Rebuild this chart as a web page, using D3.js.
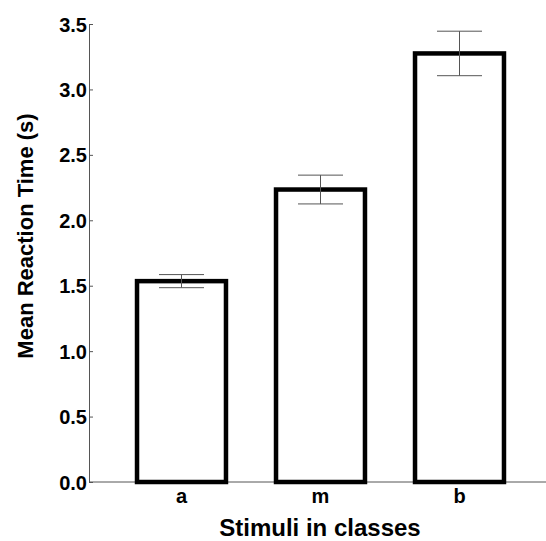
<!DOCTYPE html>
<html>
<head>
<meta charset="utf-8">
<script src="https://cdn.jsdelivr.net/npm/d3@7"></script>
<style>
  body { margin: 0; background: #fff; }
  text { font-family: "Liberation Sans", Arial, sans-serif; font-weight: bold; fill: #000; }
</style>
</head>
<body>
<div id="chart"></div>
<script>
// data
const classes = ["a", "m", "b"];
const meanRT  = [1.535, 2.235, 3.275];
const errRT   = [0.05, 0.11, 0.17];
const yTicks  = [0, 0.5, 1.0, 1.5, 2.0, 2.5, 3.0, 3.5];

const W = 546, H = 541;
const x0 = 89, y0 = 482, yTop = 24;

const svg = d3.select("#chart").append("svg")
  .attr("width", W).attr("height", H);

const x = d3.scaleBand()
  .domain(classes)
  .range([112, 529])
  .paddingInner(0.36)
  .paddingOuter(0.18);

const y = d3.scaleLinear()
  .domain([0, 3.5])
  .range([y0, yTop]);

// y axis (ticks point inward)
const yAxis = d3.axisLeft(y).tickValues(yTicks)
  .tickFormat(d3.format(".1f"))
  .tickSizeInner(-4).tickSizeOuter(0).tickPadding(6);

const gy = svg.append("g")
  .attr("transform", `translate(${x0},0)`)
  .call(yAxis);
gy.select(".domain").attr("stroke", "#555");
gy.selectAll(".tick line").attr("stroke", "#555");
gy.selectAll(".tick text").style("font-size", "20px").attr("dy", "0.35em").attr("x", -2);

// x baseline
svg.append("line")
  .attr("x1", x0).attr("x2", W)
  .attr("y1", y0).attr("y2", y0)
  .attr("stroke", "#555");

// bars
const data = classes.map((c, i) => ({ c, m: meanRT[i], e: errRT[i] }));

svg.selectAll(".bar")
  .data(data)
  .enter().append("rect")
  .attr("class", "bar")
  .attr("x", d => x(d.c))
  .attr("y", d => y(d.m))
  .attr("width", x.bandwidth())
  .attr("height", d => y(0) - y(d.m))
  .attr("fill", "#fff")
  .attr("stroke", "#000")
  .attr("stroke-width", 4.5);

// error bars
const capW = 45;
const eb = svg.selectAll(".err")
  .data(data)
  .enter().append("g")
  .attr("class", "err")
  .attr("stroke", "#555")
  .attr("stroke-width", 1);

eb.append("line")
  .attr("x1", d => x(d.c) + x.bandwidth() / 2)
  .attr("x2", d => x(d.c) + x.bandwidth() / 2)
  .attr("y1", d => y(d.m + d.e))
  .attr("y2", d => y(d.m - d.e));
eb.append("line")
  .attr("x1", d => x(d.c) + x.bandwidth() / 2 - capW / 2)
  .attr("x2", d => x(d.c) + x.bandwidth() / 2 + capW / 2)
  .attr("y1", d => y(d.m + d.e))
  .attr("y2", d => y(d.m + d.e));
eb.append("line")
  .attr("x1", d => x(d.c) + x.bandwidth() / 2 - capW / 2)
  .attr("x2", d => x(d.c) + x.bandwidth() / 2 + capW / 2)
  .attr("y1", d => y(d.m - d.e))
  .attr("y2", d => y(d.m - d.e));

// category labels
svg.selectAll(".cat")
  .data(classes)
  .enter().append("text")
  .attr("class", "cat")
  .attr("x", d => x(d) + x.bandwidth() / 2)
  .attr("y", 503)
  .attr("text-anchor", "middle")
  .style("font-size", "20px")
  .text(d => d);

// axis titles
svg.append("text")
  .attr("x", 320).attr("y", 536)
  .attr("text-anchor", "middle")
  .style("font-size", "24px")
  .text("Stimuli in classes");

svg.append("text")
  .attr("transform", "translate(33,236) rotate(-90)")
  .attr("text-anchor", "middle")
  .style("font-size", "22px")
  .text("Mean Reaction Time (s)");
</script>
</body>
</html>
